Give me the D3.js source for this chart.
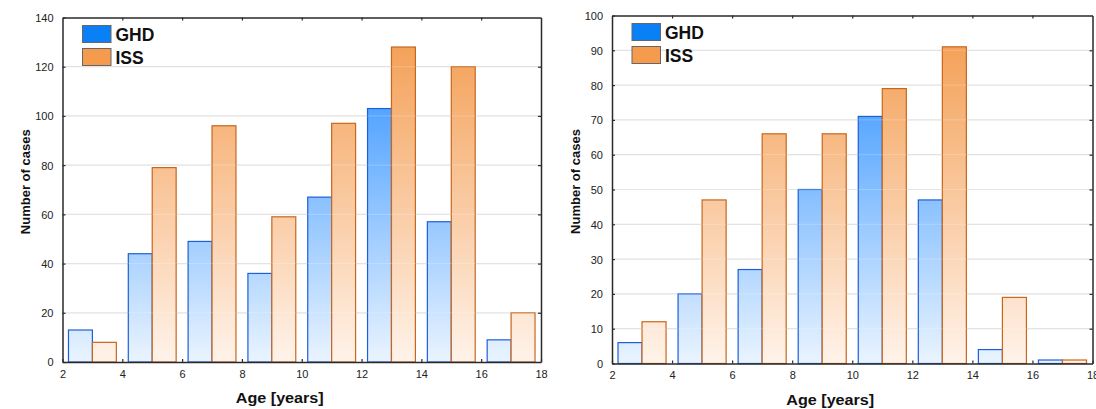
<!DOCTYPE html>
<html>
<head>
<meta charset="utf-8">
<script src="https://cdn.jsdelivr.net/npm/d3@7"></script>
<style>
  html, body { margin: 0; padding: 0; background: #fff; }
  svg { display: block; }
  text { font-family: "Liberation Sans", Arial, sans-serif; }
</style>
</head>
<body>
<svg id="chart" width="1096" height="409"></svg>
<script>
// Age groups (bar pairs are centred on these ages)
const ages = [3, 5, 7, 9, 11, 13, 15, 17];

// Panel 1: number of cases per age group
const ghdLeft = [13, 44, 49, 36, 67, 103, 57, 9];
const issLeft = [8, 79, 96, 59, 97, 128, 120, 20];

// Panel 2: number of cases per age group
const ghdRight = [6, 20, 27, 50, 71, 47, 4, 1];
const issRight = [12, 47, 66, 66, 79, 91, 19, 1];

// Axis ticks
const xTicks = [2, 4, 6, 8, 10, 12, 14, 16, 18];
const yTicksLeft = [0, 20, 40, 60, 80, 100, 120, 140];
const yTicksRight = [0, 10, 20, 30, 40, 50, 60, 70, 80, 90, 100];

const seriesNames = ["GHD", "ISS"];

const svg = d3.select("#chart");
const defs = svg.append("defs");

function drawPanel(id, box, yTicks, ghd, iss) {
  const x = d3.scaleLinear().domain([2, 18]).range([box.left, box.right]);
  const y = d3.scaleLinear().domain([0, yTicks[yTicks.length - 1]]).range([box.bottom, box.top]);
  const g = svg.append("g");

  // vertical gradients spanning the full plot height
  const gb = defs.append("linearGradient").attr("id", id + "-blue")
    .attr("gradientUnits", "userSpaceOnUse")
    .attr("x1", 0).attr("x2", 0).attr("y1", box.top).attr("y2", box.bottom);
  gb.append("stop").attr("offset", "0%").attr("stop-color", "#1e88ff");
  gb.append("stop").attr("offset", "100%").attr("stop-color", "#eaf4ff");
  const go = defs.append("linearGradient").attr("id", id + "-orange")
    .attr("gradientUnits", "userSpaceOnUse")
    .attr("x1", 0).attr("x2", 0).attr("y1", box.top).attr("y2", box.bottom);
  go.append("stop").attr("offset", "0%").attr("stop-color", "#f39a4c");
  go.append("stop").attr("offset", "100%").attr("stop-color", "#fff3ea");

  // horizontal gridlines (under bars)
  g.append("g").selectAll("line").data(yTicks.slice(1, -1)).join("line")
    .attr("x1", box.left).attr("x2", box.right)
    .attr("y1", d => y(d)).attr("y2", d => y(d))
    .attr("stroke", "#dedede").attr("stroke-width", 1.2);

  // GHD bars (left of each age), ISS bars (right of each age)
  g.append("g").selectAll("rect").data(ages).join("rect")
    .attr("x", (d) => x(d - 0.8))
    .attr("width", (d) => x(d) - x(d - 0.8))
    .attr("y", (d, i) => y(ghd[i]))
    .attr("height", (d, i) => y(0) - y(ghd[i]))
    .attr("fill", `url(#${id}-blue)`)
    .attr("stroke", "#1d5fd8").attr("stroke-width", 1.2);
  g.append("g").selectAll("rect").data(ages).join("rect")
    .attr("x", (d) => x(d))
    .attr("width", (d) => x(d + 0.8) - x(d))
    .attr("y", (d, i) => y(iss[i]))
    .attr("height", (d, i) => y(0) - y(iss[i]))
    .attr("fill", `url(#${id}-orange)`)
    .attr("stroke", "#c8661c").attr("stroke-width", 1.2);

  // faint gridlines across the bars
  g.append("g").selectAll("line").data(yTicks.slice(1, -1)).join("line")
    .attr("x1", box.left).attr("x2", box.right)
    .attr("y1", d => y(d)).attr("y2", d => y(d))
    .attr("stroke", "#ffffff").attr("stroke-opacity", 0.22).attr("stroke-width", 1);

  // axes: ticks point into the plot
  const bottomAxis = d3.axisBottom(x).tickValues(xTicks).tickSizeInner(-3).tickSizeOuter(0).tickPadding(8);
  const ax = g.append("g").attr("transform", `translate(0,${box.bottom})`).call(bottomAxis);
  const topAxis = d3.axisTop(x).tickValues(xTicks.slice(1, -1)).tickSizeInner(-3).tickSizeOuter(0).tickFormat("");
  const at = g.append("g").attr("transform", `translate(0,${box.top})`).call(topAxis);
  const leftAxis = d3.axisLeft(y).tickValues(yTicks).tickSizeInner(-3).tickSizeOuter(0).tickPadding(9);
  const al = g.append("g").attr("transform", `translate(${box.left},0)`).call(leftAxis);
  const rightAxis = d3.axisRight(y).tickValues(yTicks.slice(1, -1)).tickSizeInner(-3).tickSizeOuter(0).tickFormat("");
  const ar = g.append("g").attr("transform", `translate(${box.right},0)`).call(rightAxis);

  [ax, at, al, ar].forEach(a => {
    a.select(".domain").attr("stroke", "#2a2a2a").attr("stroke-width", 1.5);
    a.selectAll(".tick line").attr("stroke", "#2a2a2a").attr("stroke-width", 1.2);
    a.selectAll(".tick text").attr("fill", "#222").attr("font-size", 11)
      .attr("font-family", "'Liberation Sans', Arial, sans-serif");
  });
  al.selectAll(".tick text").attr("dy", "0.36em");

  // axis titles
  g.append("text")
    .attr("transform", `translate(${box.left - 37},${(box.top + box.bottom) / 2 - 8}) rotate(-90)`)
    .attr("text-anchor", "middle").attr("dy", "0.35em")
    .attr("font-size", 13).attr("font-weight", "bold").attr("fill", "#111")
    .text("Number of cases");
  g.append("text")
    .attr("x", (box.left + box.right) / 2 - 22).attr("y", box.bottom + 41)
    .attr("text-anchor", "middle")
    .attr("font-size", 14).attr("font-weight", "bold").attr("fill", "#111")
    .attr("textLength", 88).attr("lengthAdjust", "spacingAndGlyphs")
    .text("Age [years]");

  // legend
  const legendColors = ["#0a80f6", "#f59b4e"];
  const lg = g.append("g").attr("transform", `translate(${box.left + 20},${box.top + 8})`);
  seriesNames.forEach((name, i) => {
    lg.append("rect").attr("x", 0).attr("y", i * 23).attr("width", 28.5).attr("height", 17)
      .attr("fill", legendColors[i]).attr("stroke", "#666").attr("stroke-width", 1);
    lg.append("text").attr("x", 33).attr("y", i * 23 + 15)
      .attr("font-size", 17.5).attr("font-weight", "bold").attr("fill", "#111")
      .text(name);
  });
}

drawPanel("p1", { left: 62.5, right: 541, top: 17.5, bottom: 362 }, yTicksLeft, ghdLeft, issLeft);
drawPanel("p2", { left: 612, right: 1092.5, top: 15.5, bottom: 363.5 }, yTicksRight, ghdRight, issRight);
</script>
</body>
</html>
